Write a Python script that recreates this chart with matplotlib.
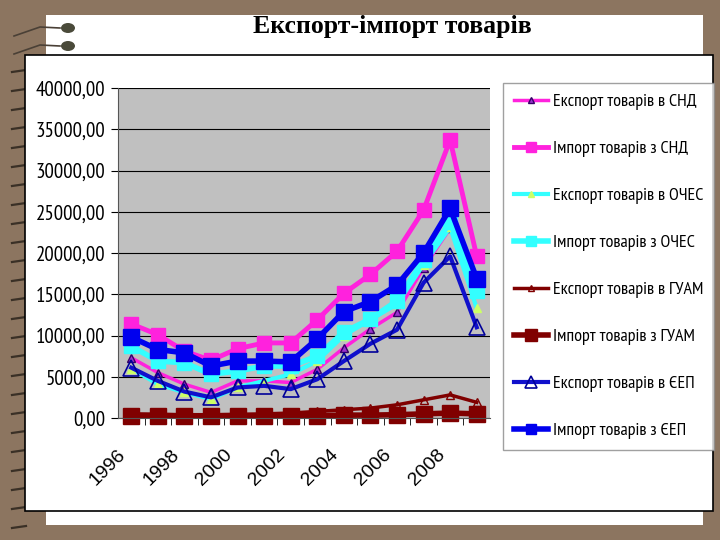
import matplotlib
matplotlib.use("Agg")
import matplotlib.pyplot as plt
from matplotlib import font_manager
from matplotlib.patches import Rectangle, Ellipse
from matplotlib.lines import Line2D
from matplotlib.transforms import ScaledTranslation

years = [1996, 1997, 1998, 1999, 2000, 2001, 2002, 2003, 2004, 2005, 2006, 2007, 2008, 2009]
tick_years = [1996, 1998, 2000, 2002, 2004, 2006, 2008]

export_snd = [7300, 5500, 4100, 3100, 4500, 4500, 4300, 5900, 8500, 10800, 12800, 18200, 23000, 15700]
import_snd = [11400, 10100, 8100, 7000, 8400, 9100, 9100, 11900, 15100, 17400, 20200, 25200, 33700, 19600]
export_oches = [6000, 4100, 3100, 2300, 3700, 4500, 5300, 6900, 10000, 11900, 13800, 18600, 23100, 13300]
import_oches = [8700, 6900, 6700, 5300, 5700, 6300, 6300, 7500, 10400, 12000, 14200, 19200, 23700, 15400]
export_guam = [500, 450, 400, 400, 450, 500, 600, 800, 1000, 1200, 1600, 2200, 2800, 1900]
import_guam = [300, 300, 250, 250, 250, 250, 250, 300, 350, 350, 400, 500, 600, 500]
export_eep = [6100, 4500, 3200, 2500, 3700, 3900, 3500, 4700, 6900, 9000, 10700, 16400, 19600, 11000]
import_eep = [9800, 8300, 7900, 6300, 6900, 6900, 6800, 9600, 12900, 14100, 16100, 20000, 25400, 16900]

labels = [
    "Експорт товарів в СНД",
    "Імпорт товарів з СНД",
    "Експорт товарів в ОЧЕС",
    "Імпорт товарів з ОЧЕС",
    "Експорт товарів в ГУАМ",
    "Імпорт товарів з ГУАМ",
    "Експорт товарів в ЄЕП",
    "Імпорт товарів з ЄЕП",
]

names = {f.name for f in font_manager.fontManager.ttflist}
narrow = "Liberation Sans"
for cand in ["Liberation Sans Narrow", "PT Sans Narrow", "Roboto Condensed", "Open Sans Condensed",
             "Archivo Narrow"]:
    if cand in names:
        narrow = cand
        break
sans = [narrow, "DejaVu Sans"]

W, H = 720, 540
fig = plt.figure(figsize=(7.2, 5.4), dpi=100)
fig.patch.set_facecolor("#8C7560")

def rect(x0, y0, x1, y1, z, **kw):
    fig.patches.append(Rectangle((x0 / W, 1 - y1 / H), (x1 - x0) / W, (y1 - y0) / H,
                                 transform=fig.transFigure, zorder=z, **kw))

# slide
rect(46, 15, 703, 525, -3, facecolor="white", edgecolor="none")
# spiral binding marks
for yy in range(70, 530, 19):
    fig.add_artist(Line2D([12 / W, 26 / W], [1 - (yy + 2) / H, 1 - yy / H],
                          color="#3a3026", lw=1.6, transform=fig.transFigure, zorder=-2.5))
for yy in (28, 46):
    fig.add_artist(Line2D([14 / W, 40 / W, 60 / W], [1 - (yy + 8) / H, 1 - (yy - 1) / H, 1 - yy / H],
                          color="#4a4036", lw=1.2, transform=fig.transFigure, zorder=-2.5))
    fig.patches.append(Ellipse((68 / W, 1 - yy / H), 14 / W, 10 / H, transform=fig.transFigure,
                               facecolor="#4a4a3a", edgecolor="none", zorder=-2.4))
# chart frame
rect(25, 55, 713, 511, -2, facecolor="white", edgecolor="black", linewidth=1.2)

fig.text(392 / W, 1 - 27 / H, "Експорт-імпорт товарів", ha="center", va="center",
         fontsize=18.5, fontweight="bold", family=["Liberation Serif", "DejaVu Serif"])

ax = fig.add_axes([118 / W, 1 - 418 / H, (490 - 118) / W, (418 - 88) / H])
ax.set_zorder(2)
ax.set_facecolor("#C0C0C0")
ax.set_xlim(1995.5, 2009.5)
ax.set_ylim(0, 40000)
ax.set_yticks(range(0, 40001, 5000))
ax.set_yticklabels([f"{v},00" for v in range(0, 40001, 5000)], family=sans, fontsize=15)
ax.set_xticks(tick_years)
ax.set_xticklabels([str(y) for y in tick_years], rotation=45, ha="right",
                   rotation_mode="anchor", family=["Liberation Sans", "DejaVu Sans"], fontsize=14)
ax.set_xticks([y + 0.5 for y in years[:-1]], minor=True)
ax.tick_params(axis="x", which="major", length=0, pad=10)
ax.tick_params(axis="x", which="minor", length=5, direction="out")
ax.tick_params(axis="y", length=5, direction="out", pad=4)
shift = ScaledTranslation(-14 / 100, -14 / 100, fig.dpi_scale_trans)
for lab in ax.get_xticklabels():
    lab.set_transform(lab.get_transform() + shift)
ax.grid(axis="y", color="black", linewidth=0.8)
ax.set_axisbelow(True)
for s in ["top", "right"]:
    ax.spines[s].set_visible(False)
ax.spines["left"].set_color("#555555")
ax.spines["bottom"].set_color("#555555")

mag = "#FF22DD"
cya = "#33FFFF"
dred = "#800000"
blu = "#0000EE"

h = []
h += ax.plot(years, export_snd, color=mag, lw=2.5, marker="^", ms=6, mfc="#9933CC",
             mec="#330066", label=labels[0], clip_on=False)
h += ax.plot(years, import_snd, color=mag, lw=3.5, marker="s", ms=10, mfc=mag, mec=mag,
             label=labels[1], clip_on=False)
h += ax.plot(years, export_oches, color=cya, lw=3, marker="^", ms=6, mfc="#CCFF66",
             mec="#CCFF66", label=labels[2], clip_on=False)
h += ax.plot(years, import_oches, color=cya, lw=4, marker="s", ms=10, mfc=cya, mec=cya,
             label=labels[3], clip_on=False)
h += ax.plot(years, export_guam, color=dred, lw=2.5, marker="^", ms=6, mfc="none",
             mec=dred, label=labels[4], clip_on=False)
h += ax.plot(years, import_guam, color=dred, lw=4, marker="s", ms=12, mfc=dred, mec=dred,
             label=labels[5], clip_on=False)
h += ax.plot(years, export_eep, color="#1010CC", lw=3, marker="^", ms=12, mfc="none",
             mec="#000099", mew=1.2, label=labels[6], clip_on=False)
h += ax.plot(years, import_eep, color=blu, lw=4, marker="s", ms=11, mfc=blu, mec=blu,
             label=labels[7], clip_on=False)

leg = fig.legend(handles=h, labels=labels, loc="upper left",
                 bbox_to_anchor=(503 / W, 1 - 83 / H), prop={"family": sans, "size": 13},
                 frameon=True, fancybox=False, edgecolor="#888888", labelspacing=1.68,
                 handlelength=1.9, handletextpad=0.25, borderpad=0.6, borderaxespad=0,
                 markerscale=0.7)
leg.get_frame().set_linewidth(1.0)
leg.set_zorder(5)

fig.savefig("out.png", dpi=100)
